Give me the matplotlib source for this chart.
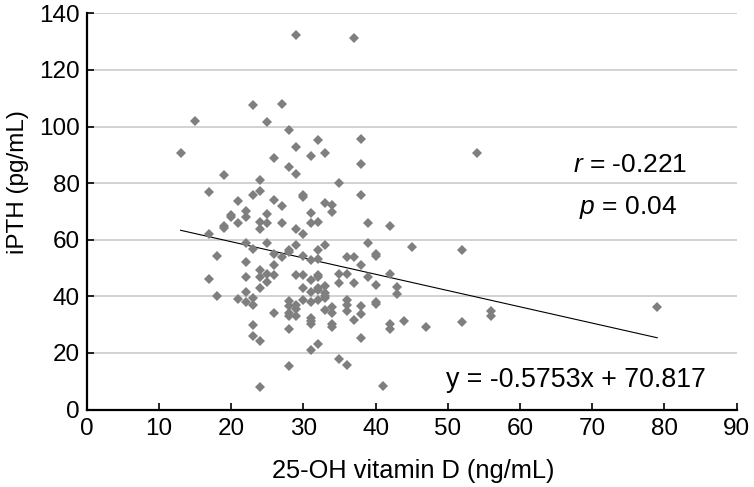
import matplotlib
matplotlib.use("Agg")
import matplotlib.pyplot as plt
import numpy as np

plt.rcParams['font.family'] = ['Liberation Sans', 'DejaVu Sans']
plt.rcParams['mathtext.fontset'] = 'custom'
plt.rcParams['mathtext.it'] = 'Liberation Sans:italic'
plt.rcParams['mathtext.rm'] = 'Liberation Sans'

# 25-OH vitamin D (ng/mL) values, grouped per x
vitd = (
    [13] + [15] + [17]*3 + [18]*2 + [19]*3 + [20]*2 + [21]*3 + [22]*7 + [23]*7 +
    [24]*9 + [25]*6 + [26]*6 + [27]*4 + [28]*10 + [29]*9 + [30]*7 + [31]*11 +
    [32]*10 + [33]*8 + [34]*6 + [35]*4 + [36]*6 + [37]*4 + [38]*7 + [39]*3 +
    [40]*5 + [41] + [42]*4 + [43]*2 + [44] + [45] + [47] + [52]*2 + [54] +
    [56]*2 + [79]
)
ipth = [
    90.5,
    101.8,
    77.0, 62.1, 46.0,
    54.1, 40.0,
    82.7, 65.0, 64.2,
    68.8, 68.0,
    73.7, 65.8, 38.9,
    70.3, 67.9, 58.9, 52.0, 47.0, 41.5, 38.0,
    107.5, 75.8, 56.8, 39.5, 36.9, 30.0, 25.9,
    81.0, 77.2, 66.2, 63.8, 49.2, 46.8, 42.8, 24.2, 8.0,
    101.7, 69.0, 65.8, 58.9, 48.0, 45.0,
    88.9, 74.1, 55.0, 51.0, 47.7, 34.2,
    107.9, 71.9, 65.8, 53.8,
    98.8, 85.8, 56.2, 55.6, 38.3, 36.6, 34.0, 33.1, 28.6, 15.3,
    132.4, 92.8, 83.2, 63.8, 58.0, 47.7, 36.9, 35.4, 33.1,
    75.8, 75.0, 61.9, 54.1, 47.7, 42.8, 38.7,
    89.6, 69.6, 66.0, 53.0, 45.6, 41.4, 38.0, 32.3, 31.3, 30.4, 21.2,
    95.2, 66.2, 56.2, 53.3, 47.7, 47.0, 43.1, 42.1, 38.6, 23.1,
    90.8, 73.0, 58.0, 43.8, 41.2, 40.2, 39.3, 35.0,
    72.1, 69.8, 36.2, 34.0, 30.1, 29.2,
    79.9, 48.0, 44.8, 18.0,
    54.0, 48.0, 38.6, 36.8, 34.8, 15.9,
    131.4, 54.0, 44.8, 31.5,
    95.6, 86.9, 75.9, 50.9, 36.7, 33.9, 25.4,
    66.0, 59.0, 47.0,
    55.0, 54.1, 44.0, 38.0, 37.2,
    8.3,
    65.0, 48.0, 30.4, 28.3,
    43.2, 40.8,
    31.3,
    57.4,
    29.0,
    56.4, 30.9,
    90.8,
    34.7, 32.9,
    36.2,
]

slope = -0.5753
intercept = 70.817
r_text = "-0.221"
p_text = "0.04"

x_ticks = list(range(0, 91, 10))
y_ticks = list(range(0, 141, 20))

fig = plt.figure(figsize=(7.54, 4.87), dpi=100)
ax = fig.add_axes([0.115, 0.159, 0.862, 0.8137])

ax.set_xlim(0, 90)
ax.set_ylim(0, 140)

for yv in y_ticks[1:]:
    ax.axhline(yv, color='#c6c6c6', lw=1.1, zorder=0)

x = np.array(vitd, dtype=float)
y = np.array(ipth, dtype=float)
ax.plot(x, y, linestyle='none', marker='D', markersize=4.6,
        color='#7f7f7f', markeredgewidth=0, zorder=3)

xl = np.array([x.min(), x.max()])
ax.plot(xl, slope * xl + intercept, color='black', lw=0.8, zorder=2)

for s in ['top', 'right']:
    ax.spines[s].set_visible(False)
for s in ['left', 'bottom']:
    ax.spines[s].set_linewidth(1.6)
    ax.spines[s].set_color('black')

ax.set_xticks(x_ticks)
ax.set_yticks(y_ticks)
ax.tick_params(direction='in', length=5, width=1.2, labelsize=17.5, colors='black', pad=6)
ax.tick_params(axis='y', pad=5)

ax.set_xlabel("25-OH vitamin D (ng/mL)", fontsize=18.3)
ax.xaxis.set_label_coords(0.503, -0.126)
ax.set_ylabel("iPTH (pg/mL)", fontsize=17.5)
ax.yaxis.set_label_coords(-0.089, 0.575)

ax.text(75.2, 83.8, "$r$ = " + r_text, fontsize=19, ha='center', va='baseline')
ax.text(75.0, 69.1, "$p$ = " + p_text, fontsize=19, ha='center', va='baseline')
ax.text(67.8, 8.0, "y = " + str(slope) + "x + " + str(intercept), fontsize=19.3,
        ha='center', va='baseline')

fig.savefig("out.png", dpi=100, facecolor='white')
